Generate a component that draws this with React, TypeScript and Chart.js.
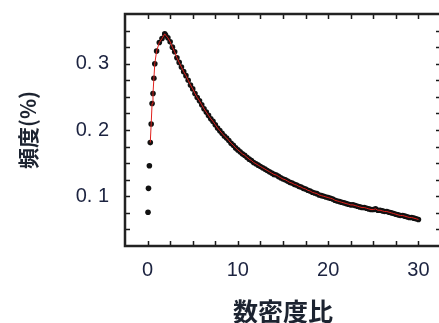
import React, { useEffect, useRef } from "react";
import { Chart, registerables } from "chart.js";

Chart.register(...registerables);

const ratio = [
  0.05, 0.1, 0.2, 0.3, 0.4, 0.5, 0.6, 0.7, 0.8, 1.0, 1.3, 1.6, 1.9,
  2.0, 2.25, 2.5, 2.75, 3.0, 3.25, 3.5, 3.75, 4.0, 4.25, 4.5, 4.75,
  5.0, 5.25, 5.5, 5.75, 6.0, 6.25, 6.5, 6.75, 7.0, 7.25, 7.5, 7.75,
  8.0, 8.25, 8.5, 8.75, 9.0, 9.25, 9.5, 9.75, 10.0, 10.25, 10.5, 10.75,
  11.0, 11.25, 11.5, 11.75, 12.0, 12.25, 12.5, 12.75, 13.0, 13.25, 13.5, 13.75,
  14.0, 14.25, 14.5, 14.75, 15.0, 15.25, 15.5, 15.75, 16.0, 16.25, 16.5, 16.75,
  17.0, 17.25, 17.5, 17.75, 18.0, 18.25, 18.5, 18.75, 19.0, 19.25, 19.5, 19.75,
  20.0, 20.25, 20.5, 20.75, 21.0, 21.25, 21.5, 21.75, 22.0, 22.25, 22.5, 22.75,
  23.0, 23.25, 23.5, 23.75, 24.0, 24.25, 24.5, 24.75, 25.0, 25.25, 25.5, 25.75,
  26.0, 26.25, 26.5, 26.75, 27.0, 27.25, 27.5, 27.75, 28.0, 28.25, 28.5, 28.75,
  29.0, 29.25, 29.5, 29.75, 30.0,
];

const frequency = [
  0.076, 0.112, 0.146, 0.181, 0.209, 0.240, 0.255, 0.278, 0.300, 0.319, 0.332, 0.338, 0.345,
  0.343, 0.339, 0.333, 0.325, 0.318, 0.309, 0.302, 0.295, 0.288, 0.282, 0.275, 0.268,
  0.262, 0.255, 0.249, 0.244, 0.238, 0.232, 0.227, 0.222, 0.217, 0.213, 0.208, 0.203,
  0.199, 0.195, 0.191, 0.188, 0.184, 0.180, 0.177, 0.173, 0.170, 0.167, 0.164, 0.162,
  0.159, 0.156, 0.154, 0.151, 0.149, 0.147, 0.145, 0.143, 0.141, 0.139, 0.137, 0.135,
  0.133, 0.132, 0.130, 0.128, 0.126, 0.125, 0.123, 0.121, 0.120, 0.118, 0.117, 0.115,
  0.114, 0.112, 0.111, 0.109, 0.108, 0.106, 0.105, 0.104, 0.102, 0.101, 0.100, 0.099,
  0.098, 0.097, 0.096, 0.094, 0.093, 0.092, 0.091, 0.090, 0.089, 0.088, 0.087, 0.087,
  0.086, 0.085, 0.084, 0.083, 0.083, 0.082, 0.081, 0.080, 0.080, 0.081, 0.079, 0.079,
  0.078, 0.077, 0.077, 0.076, 0.075, 0.074, 0.073, 0.072, 0.071, 0.071, 0.070, 0.069,
  0.068, 0.068, 0.067, 0.066, 0.065,
];

// the red fitted line starts at the 4th point
const fitStartIndex = 3;

const xMajorLabels = [0, 10, 20, 30];
const yMajorLabels = ["0. 1", "0. 2", "0. 3"];
const yMajorValues = [0.1, 0.2, 0.3];

const xTitle = "数密度比";
const yTitle = "頻度(%)";

const framePlugin = {
  id: "framePlugin",
  afterDatasetsDraw(chart: any) {
    const { ctx, chartArea, scales } = chart;
    const { left, right, top, bottom } = chartArea;
    const tl = 5;
    ctx.save();
    ctx.strokeStyle = "#1a1a1a";
    ctx.lineWidth = 1.5;
    scales.x.ticks.forEach((t: any) => {
      const px = Math.round(scales.x.getPixelForValue(t.value)) + 0.5;
      if (px <= left + 1 || px >= right - 1) return;
      ctx.beginPath();
      ctx.moveTo(px, bottom);
      ctx.lineTo(px, bottom - tl);
      ctx.moveTo(px, top);
      ctx.lineTo(px, top + tl);
      ctx.stroke();
    });
    scales.y.ticks.forEach((t: any) => {
      const py = Math.round(scales.y.getPixelForValue(t.value)) + 0.5;
      if (py <= top + 1 || py >= bottom - 1) return;
      ctx.beginPath();
      ctx.moveTo(left, py);
      ctx.lineTo(left + tl, py);
      ctx.moveTo(right, py);
      ctx.lineTo(right - tl, py);
      ctx.stroke();
    });
    ctx.lineWidth = 2.5;
    ctx.strokeStyle = "#222";
    ctx.strokeRect(left, top, right - left, bottom - top);
    ctx.restore();
  },
};

export default function App() {
  const ref = useRef<HTMLCanvasElement>(null);

  useEffect(() => {
    if (!ref.current) return;
    const points = ratio.map((x, i) => ({ x, y: frequency[i] }));
    const fit = points.slice(fitStartIndex);
    const chart = new Chart(ref.current, {
      type: "scatter",
      data: {
        datasets: [
          {
            label: "fit",
            data: fit,
            showLine: true,
            borderColor: "#e0201c",
            borderWidth: 1,
            pointRadius: 0,
            tension: 0,
          },
          {
            label: "data",
            data: points,
            showLine: false,
            pointRadius: 2.8,
            pointBorderWidth: 0,
            backgroundColor: "#111",
            borderColor: "#111",
          },
        ],
      },
      options: {
        animation: false,
        responsive: false,
        layout: { padding: { top: 14, right: 19, left: 0, bottom: 0 } },
        plugins: { legend: { display: false }, tooltip: { enabled: false } },
        scales: {
          x: {
            type: "linear",
            min: -2.5,
            max: 32.5,
            grid: { display: false, drawTicks: false },
            border: { display: false },
            ticks: {
              stepSize: 2.5,
              padding: 12,
              color: "#1c2340",
              font: { family: "'Liberation Sans', Arial, sans-serif", size: 20 },
              maxRotation: 0,
              autoSkip: false,
              callback: (v: any) => {
                const n = Number(v);
                return xMajorLabels.some((m) => Math.abs(m - n) < 1e-6) ? String(n) : "";
              },
            },
            title: {
              display: true,
              text: xTitle,
              color: "#1c2330",
              font: { family: "'Noto Sans CJK JP', sans-serif", size: 25, weight: "bold", lineHeight: 1 },
              padding: { top: 0, bottom: -1 },
            },
            afterFit: (s: any) => {
              s.height = 77;
              s.paddingLeft = 0;
              s.paddingRight = 0;
            },
          },
          y: {
            type: "linear",
            min: 0.025,
            max: 0.375,
            grid: { display: false, drawTicks: false },
            border: { display: false },
            ticks: {
              stepSize: 0.025,
              padding: 16,
              color: "#1c2340",
              font: { family: "'Liberation Sans', Arial, sans-serif", size: 20 },
              autoSkip: false,
              callback: (v: any) => {
                const n = Number(v);
                const idx = yMajorValues.findIndex((m) => Math.abs(m - n) < 1e-6);
                return idx >= 0 ? yMajorLabels[idx] : "";
              },
            },
            title: {
              display: true,
              text: yTitle,
              color: "#1c2330",
              font: { family: "'Noto Sans CJK JP', sans-serif", size: 21, weight: "bold", lineHeight: 1.2 },
              padding: { top: 15, bottom: 0 },
            },
            afterFit: (s: any) => {
              s.width = 125;
              s.paddingTop = 0;
              s.paddingBottom = 0;
            },
          },
        },
      },
      plugins: [framePlugin],
    });
    return () => chart.destroy();
  }, []);

  return (
    <div style={{ position: "fixed", left: 0, top: 0, width: 439, height: 323, overflow: "hidden", background: "#fff" }}>
      <canvas ref={ref} width={460} height={323} style={{ display: "block" }} />
    </div>
  );
}
